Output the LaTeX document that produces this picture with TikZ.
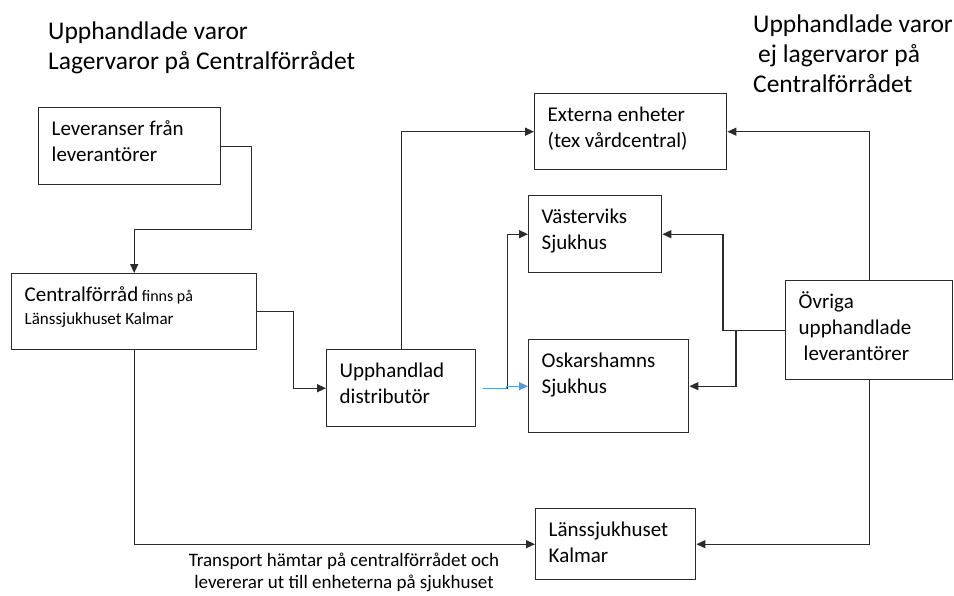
\documentclass[tikz,border=0pt]{standalone}
\usepackage{fontspec}
\setmainfont{Carlito}
\usetikzlibrary{positioning, arrows.meta, calc}
\usepackage{xcolor}
\definecolor{flowline}{HTML}{2B2B2B}
\definecolor{flowblue}{HTML}{5B9BD5}

% text block at the top of a box: width, height, text
\newcommand{\boxtext}[3]{\parbox[c][#2][t]{#1}{\raggedright\rule{0pt}{28pt}#3}}

\begin{document}
\begin{tikzpicture}[x=1pt, y=-1pt,
    unit/.style={draw=flowline, line width=1.4pt, anchor=north west,
                 inner xsep=13pt, inner ysep=0pt, font=\fontsize{21}{26}\selectfont},
    flow/.style={draw=flowline, line width=1.4pt, -{Triangle[length=9pt,width=8pt]}},
    heading/.style={anchor=north west, inner sep=0pt, align=left,
                    font=\fontsize{25.5}{30}\selectfont},
    note/.style={anchor=north, inner sep=0pt, align=center,
                 font=\fontsize{19}{22}\selectfont}]
  \useasboundingbox (0,0) rectangle (954,595);

  % rubriker
  \node[heading] (lagerttl) at (48,22) {Upphandlade varor\\Lagervaror på Centralförrådet};
  \node[heading] (ejlagerttl) at (753,15) {Upphandlade varor\\\hspace*{5pt}ej lagervaror på\\Centralförrådet};

  % rutor
  \node[unit] (lev) at (38,107) {\boxtext{156pt}{77pt}{Leveranser från\\leverantörer}};
  \node[unit] (cen) at (11,273) {\boxtext{219pt}{76pt}{Centralförråd\,{\fontsize{16}{23}\selectfont finns på\\[-3pt]\fontsize{17}{23}\selectfont Länssjukhuset Kalmar}}};
  \node[unit] (upp) at (326,349) {\boxtext{123pt}{77pt}{Upphandlad\\distributör}};
  \node[unit] (ext) at (534,93) {\boxtext{166pt}{76pt}{Externa enheter\\(tex vårdcentral)}};
  \node[unit] (vas) at (528,195) {\boxtext{107pt}{77pt}{Västerviks\\Sjukhus}};
  \node[unit] (osk) at (528,339) {\boxtext{134pt}{93pt}{Oskarshamns\\Sjukhus}};
  \node[unit] (ovr) at (785,280) {\boxtext{141pt}{99pt}{Övriga\\upphandlade\\\hspace*{5pt}leverantörer}};
  \node[unit] (lan) at (535,508) {\boxtext{134pt}{71pt}{Länssjukhuset\\Kalmar}};

  % flöden
  \draw[flow] (lev.east) -- ++(30,0) -- ++(0,83.5) -| (cen.north);
  \draw[flow] (cen.east) -- ++(36,0) |- (upp.west);
  \draw[flow] (upp.north) |- (ext.west);
  \draw[flow] ([xshift=7pt]upp.east) -- ++(24,0) |- (vas.west);
  \draw[flow, draw=flowblue] ([xshift=7pt]upp.east) -- ++(23,0) |- (osk.west);
  \draw[flow] (ovr.north) |- (ext.east);
  \draw[flow] (ovr.west) -- ++(-62,0) |- (vas.east);
  \draw[flow] (ovr.west) -- ++(-49,0) |- (osk.east);
  \draw[flow] (ovr.south) |- (lan.east);
  \draw[flow] (cen.south) |- (lan.west);

  \node[note] (transport) at (344,553) {Transport hämtar på centralförrådet och\\levererar ut till enheterna på sjukhuset};
\end{tikzpicture}
\end{document}
